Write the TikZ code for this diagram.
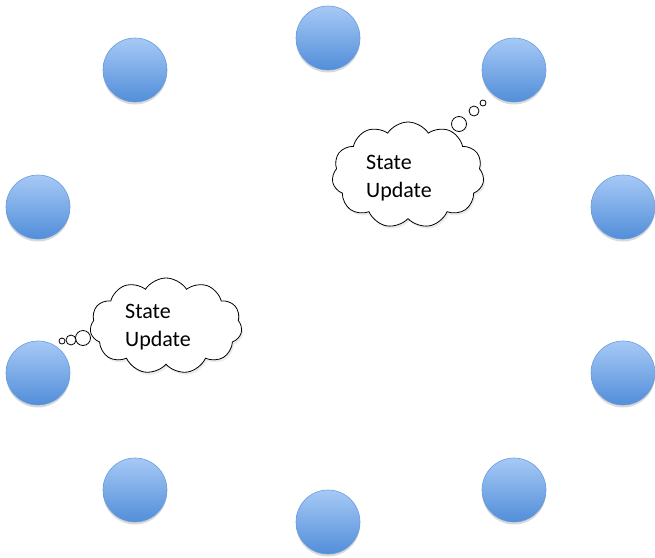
\documentclass[tikz,border=0pt]{standalone}
\usepackage{fontspec}
\setmainfont{Carlito}
\usetikzlibrary{shapes.symbols,shadows}
\definecolor{balltop}{RGB}{166,201,246}
\definecolor{ballbot}{RGB}{82,142,217}
\definecolor{ballrim}{RGB}{104,156,219}
\tikzset{
  ball/.style={circle, minimum size=64pt, inner sep=0pt,
    top color=balltop, bottom color=ballbot, draw=ballrim, line width=0.6pt,
    drop shadow={shadow xshift=0pt, shadow yshift=-2.5pt, opacity=0.25, fill=black!60}},
  thought/.style={cloud, cloud puffs=11, cloud puff arc=115, cloud ignores aspect,
    draw=black, line width=0.8pt, fill=white, inner sep=0pt,
    drop shadow={shadow xshift=1.5pt, shadow yshift=-2.5pt, opacity=0.15}},
  bubble/.style={circle, draw=black, line width=0.8pt, fill=white, inner sep=0pt},
  label/.style={font=\fontsize{22}{28}\selectfont, align=left, inner sep=0pt}
}
\begin{document}
\begin{tikzpicture}[x=1pt,y=-1pt]
  \useasboundingbox (0,0) rectangle (655,557);
  % ring of processes
  \node[ball] (n1) at (328,38) {};
  \node[ball] (n2) at (514,70) {};
  \node[ball] (n3) at (623,207) {};
  \node[ball] (n4) at (623,373) {};
  \node[ball] (n5) at (514,490) {};
  \node[ball] (n6) at (328,522) {};
  \node[ball] (n7) at (135,490) {};
  \node[ball] (n8) at (38,373) {};
  \node[ball] (n9) at (38,207) {};
  \node[ball] (n10) at (135,70) {};
  % thought of the upper-right process
  \node[thought, minimum width=152pt, minimum height=106pt] (c1) at (408,175) {};
  \node[label] (t1) at (399,178) {State\\Update};
  \node[bubble, minimum size=15pt] (b1a) at (459,124) {};
  \node[bubble, minimum size=10pt] (b1b) at (474,111) {};
  \node[bubble, minimum size=6pt] (b1c) at (483,103) {};
  % thought of the lower-left process
  \node[thought, minimum width=152pt, minimum height=96pt] (c2) at (166,326) {};
  \node[label] (t2) at (158,327) {State\\Update};
  \node[bubble, minimum size=15pt] (b2a) at (83,338) {};
  \node[bubble, minimum size=10pt] (b2b) at (71,340) {};
  \node[bubble, minimum size=6pt] (b2c) at (62,341) {};
\end{tikzpicture}
\end{document}
